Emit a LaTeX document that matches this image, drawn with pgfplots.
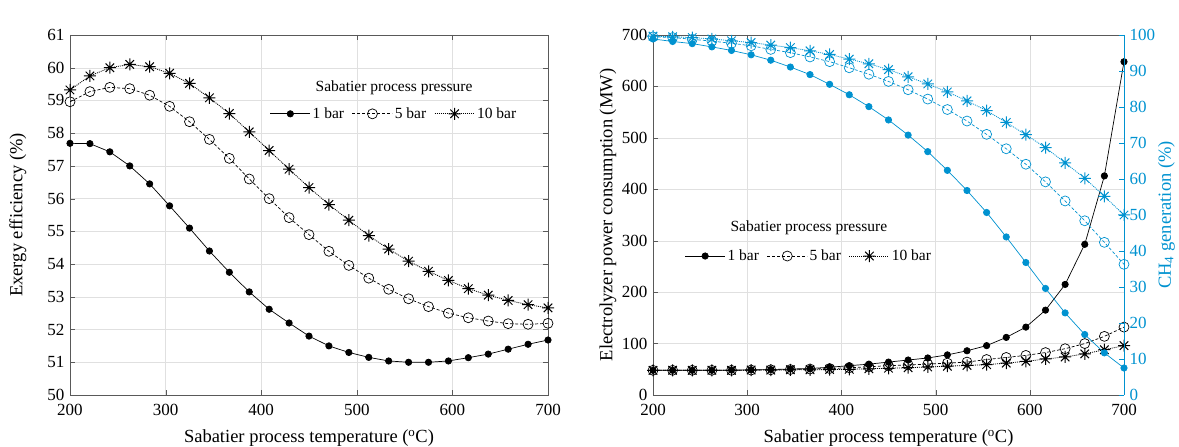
\documentclass[border=0pt]{standalone}
\usepackage{fontspec}
\setmainfont{Liberation Serif}
\usepackage{pgfplots}
\usepackage{pgfplotstable}
\pgfplotsset{compat=1.18}
\definecolor{cblue}{RGB}{0,146,208}
\pgfdeclareplotmark{ast8}{%
  \pgfpathmoveto{\pgfqpoint{-\pgfplotmarksize}{0pt}}\pgfpathlineto{\pgfqpoint{\pgfplotmarksize}{0pt}}%
  \pgfpathmoveto{\pgfqpoint{0pt}{-\pgfplotmarksize}}\pgfpathlineto{\pgfqpoint{0pt}{\pgfplotmarksize}}%
  \pgfpathmoveto{\pgfqpoint{-0.707\pgfplotmarksize}{-0.707\pgfplotmarksize}}\pgfpathlineto{\pgfqpoint{0.707\pgfplotmarksize}{0.707\pgfplotmarksize}}%
  \pgfpathmoveto{\pgfqpoint{-0.707\pgfplotmarksize}{0.707\pgfplotmarksize}}\pgfpathlineto{\pgfqpoint{0.707\pgfplotmarksize}{-0.707\pgfplotmarksize}}%
  \pgfusepathqstroke}
\pgfplotstableread{
x e1 e5 e10 p1 p5 p10 c1 c5 c10
200 57.69 58.96 59.32 48 48 48 98.9 99.5 99.7
220.833 57.68 59.27 59.75 48 48 48 98.2 99.3 99.5
241.667 57.43 59.40 60.00 48 48 48 97.6 98.8 99.3
262.5 57.00 59.36 60.10 48 48 48 96.7 98.3 98.9
283.333 56.45 59.16 60.03 48.5 48 48 95.7 97.7 98.4
304.167 55.78 58.82 59.83 49 48.5 48.5 94.5 97.0 97.9
325 55.10 58.35 59.52 49.5 49 48.5 93.0 96.0 97.2
345.833 54.40 57.81 59.08 50.5 49.5 49 91.1 95.1 96.5
366.667 53.75 57.23 58.60 51.5 50.5 49 89.0 93.9 95.6
387.5 53.15 56.60 58.04 54 51.5 49.5 86.3 92.6 94.6
408.333 52.62 56.00 57.47 57 53 50 83.4 90.9 93.3
429.167 52.20 55.42 56.90 60 55 51 80.1 89.1 92.0
450 51.80 54.90 56.34 64 57 52 76.4 87.1 90.4
470.833 51.50 54.39 55.82 68 58.5 53 72.2 84.8 88.4
491.667 51.30 53.96 55.34 72 60 54.5 67.6 82.2 86.4
512.5 51.15 53.57 54.87 78 62 56 62.4 79.3 84.2
533.333 51.04 53.23 54.46 86 64 57.5 56.8 76.1 81.7
554.167 51.00 52.94 54.09 96 69 59 50.7 72.4 79.0
575 51.00 52.70 53.78 112 73 62 43.9 68.4 75.7
595.833 51.04 52.50 53.50 132 77 65.5 36.8 64.1 72.3
616.667 51.14 52.36 53.25 165 82.5 70 29.6 59.2 68.7
637.5 51.25 52.26 53.05 215 90 74 22.8 53.9 64.5
658.333 51.40 52.18 52.89 293 100 80 16.8 48.4 60.2
679.167 51.55 52.16 52.76 426 114 88 11.7 42.4 55.2
700 51.68 52.19 52.66 648 132 96 7.5 36.3 50.0
}\data
\newcommand{\fs}{\fontsize{15.5}{18}\selectfont}
\newcommand{\ft}{\fontsize{17}{20}\selectfont}
\newcommand{\fl}{\fontsize{18.5}{22}\selectfont}
\pgfplotsset{
  common/.style={
    scale only axis, height=360pt,
    xmin=200, xmax=700, xtick={200,300,...,700},
    tick align=inside, major tick length=5pt,
    axis line style={black!65}, tick style={black!65},
    grid=major, major grid style={black!12},
    ticklabel style={font=\ft},
    /pgf/number format/assume math mode=true,
    label style={font=\fl},
    xticklabel style={yshift=-6pt},
    yticklabel style={xshift=-2pt},
    xlabel={Sabatier process temperature (\textsuperscript{o}C)},
    xlabel style={at={(axis description cs:0.5,0)},anchor=base,yshift=-48pt},
    legend columns=3,
    legend style={draw=none, fill=none, font=\fs, inner sep=0pt,
      /tikz/every even column/.append style={column sep=6pt}},
    legend image code/.code={\draw[mark repeat=2,mark phase=2,##1] plot coordinates {(0pt,0pt) (20pt,0pt) (40pt,0pt)};},
  },
  s1/.style={line width=0.7pt, mark=*, mark size=3.2pt, mark options={solid}},
  s5/.style={line width=0.7pt, dash pattern=on 3pt off 2pt, mark=o, mark size=5pt, mark options={solid,fill=white}},
  s10/.style={line width=0.8pt, dash pattern=on 1pt off 1pt, mark=ast8, mark size=6pt, mark options={solid,line width=1pt}},
}
\begin{document}
\begin{tikzpicture}
\useasboundingbox (0,0) rectangle (1179pt,447pt);
% ---------------- panel a
\begin{axis}[common, width=478pt, at={(70pt,52pt)}, anchor=south west,
  ymin=50, ymax=61, ytick={50,51,...,61},
  ylabel={Exergy efficiency (\%)},
  ylabel style={at={(axis description cs:-0.109,0.5)},anchor=center},
  legend style={at={(axis description cs:0.678,0.781)},anchor=center}]
\addplot[black, s1] table[x=x,y=e1] {\data};
\addplot[black, s5] table[x=x,y=e5] {\data};
\addplot[black, s10] table[x=x,y=e10] {\data};
\legend{1 bar,5 bar,10 bar}
\node[font=\fs] at (axis description cs:0.678,0.853) {Sabatier process pressure};
\node[font=\fl] at (axis description cs:0.023,1.039) {a)};
\end{axis}
% ---------------- panel b, left axis
\begin{axis}[common, width=471pt, at={(653pt,52pt)}, anchor=south west,
  ymin=0, ymax=700, ytick={0,100,...,700},
  axis y line*=left,
  ylabel={Electrolyzer power consumption (MW)},
  ylabel style={at={(axis description cs:-0.0955,0.5)},anchor=center},
  legend style={at={(axis description cs:0.331,0.386)},anchor=center}]
\addplot[black, s1] table[x=x,y=p1] {\data};
\addplot[black, s5] table[x=x,y=p5] {\data};
\addplot[black, s10] table[x=x,y=p10] {\data};
\legend{1 bar,5 bar,10 bar}
\node[font=\fs] at (axis description cs:0.331,0.464) {Sabatier process pressure};
\node[font=\fl] at (axis description cs:0.018,1.042) {b)};
\end{axis}
% ---------------- panel b, right axis
\begin{axis}[scale only axis, width=471pt, height=360pt, at={(653pt,52pt)}, anchor=south west,
  xmin=200, xmax=700, axis x line=none, axis y line*=right,
  ymin=0, ymax=100, ytick={0,10,...,100},
  tick align=inside, major tick length=5pt,
  axis line style={cblue}, tick style={cblue},
  ticklabel style={font=\ft, text=cblue},
  yticklabel style={xshift=2pt},
  /pgf/number format/assume math mode=true,
  ylabel={CH\textsubscript{4} generation (\%)},
  ylabel style={font=\fl, text=cblue, at={(axis description cs:1.09,0.5)},anchor=center}]
\addplot[cblue, s1] table[x=x,y=c1] {\data};
\addplot[cblue, s5] table[x=x,y=c5] {\data};
\addplot[cblue, s10] table[x=x,y=c10] {\data};
\end{axis}
\end{tikzpicture}
\end{document}
